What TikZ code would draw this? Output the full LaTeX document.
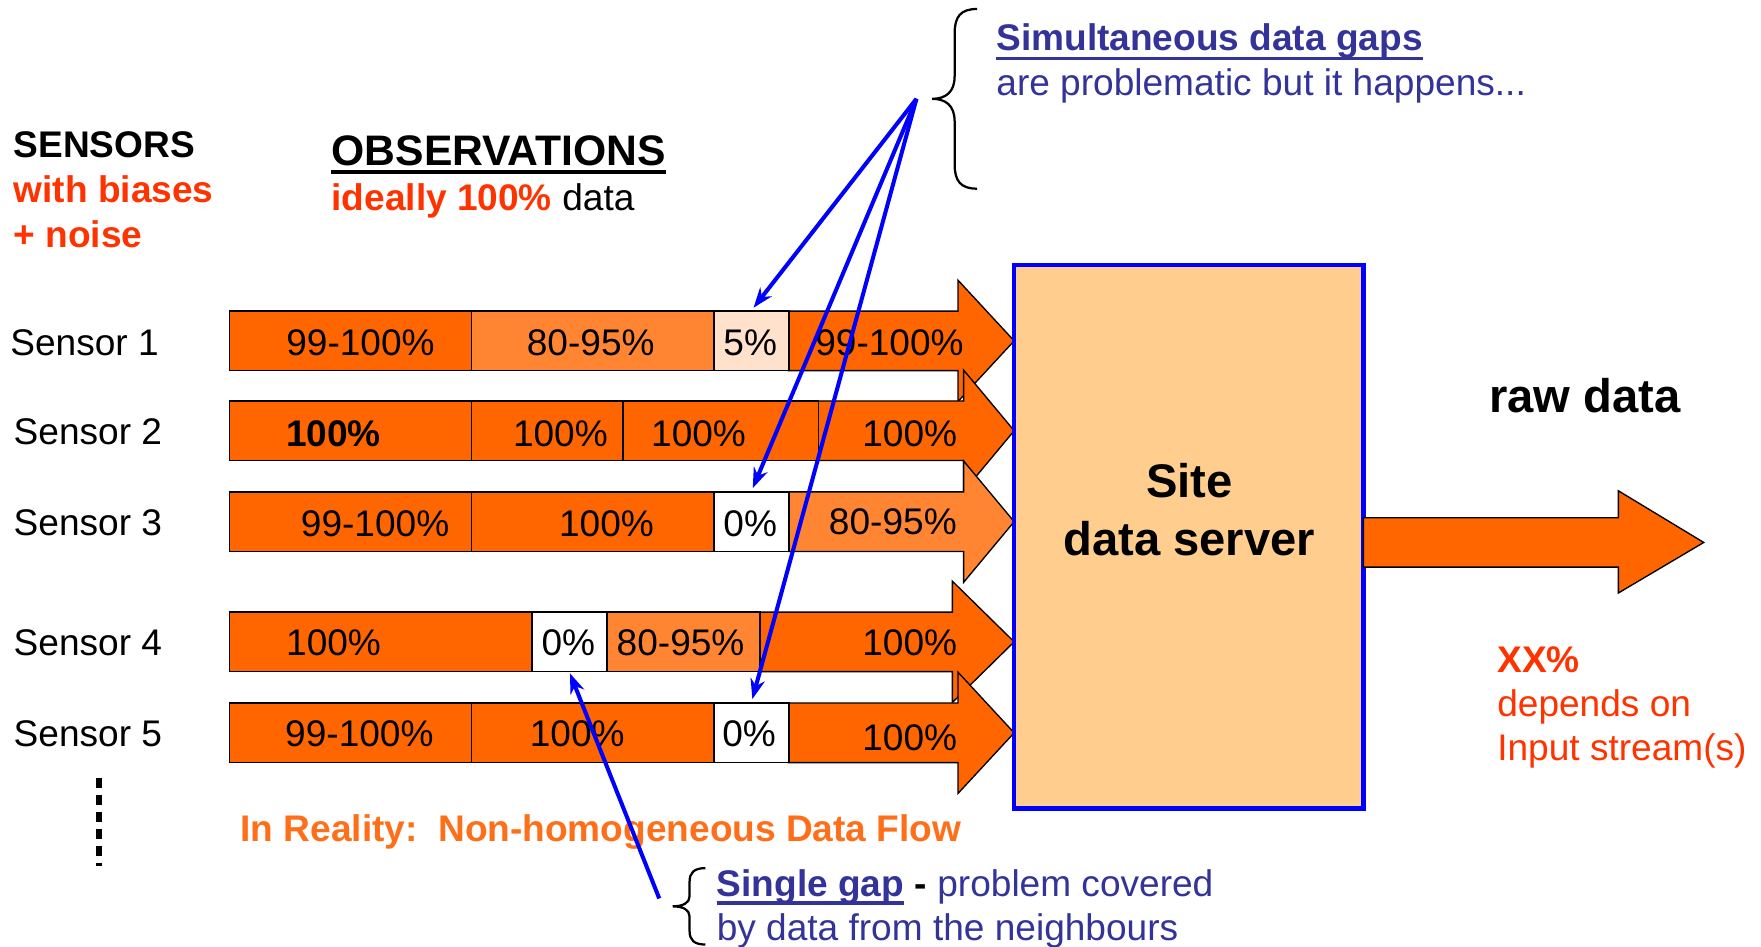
\documentclass[tikz,border=0pt]{standalone}
\usepackage{fontspec}
\setmainfont{Liberation Sans}
\usetikzlibrary{arrows.meta}
\definecolor{dorange}{HTML}{FF6600}
\definecolor{lorange}{HTML}{FF8533}
\definecolor{pale}{HTML}{FFE1CC}
\definecolor{srvfill}{HTML}{FFCE8E}
\definecolor{annblue}{HTML}{333399}
\definecolor{redtxt}{HTML}{FF3300}
\definecolor{flowor}{HTML}{FF6F1A}
\newcommand{\txtA}{\fontsize{33pt}{40pt}\selectfont}
\newcommand{\txtB}{\fontsize{38pt}{44pt}\selectfont}
\newcommand{\txtC}{\fontsize{42pt}{50pt}\selectfont}
\newcommand{\flowarrow}[4]{% fill, x left, shaft end, y centre
  \filldraw[barhead, fill=#1] (#2,#4-26.5) -- (#3,#4-26.5) -- (#3,#4-54) -- (903,#4)
    -- (#3,#4+54) -- (#3,#4+26.5) -- (#2,#4+26.5) -- cycle;}
\tikzset{
  cell/.style={draw=black, line width=1.2pt, rectangle, inner sep=0pt, minimum height=53pt, anchor=west},
  barhead/.style={draw=black, line width=1.2pt, line join=miter},
  lbl/.style={inner sep=0pt, text height=23.6pt, text depth=0pt, font=\txtA},
  txt/.style={inner sep=0pt, anchor=base west, font=\txtA},
  gapline/.style={draw=blue, line width=3.6pt, -{Stealth[length=18pt,width=13pt]}, shorten >=3pt},
  ubrace/.style={draw=black, line width=2pt},
}
\begin{document}
\begin{tikzpicture}[x=1pt,y=-1pt]
\useasboundingbox (0,0) rectangle (1568,843);
% headings
\node[txt, font=\txtA\bfseries] (sens) at (12,140) {SENSORS};
\node[txt, font=\txtA\bfseries, text=redtxt] (bias) at (12,180) {with biases};
\node[txt, font=\txtA\bfseries, text=redtxt] (noise) at (12,220) {+ noise};
\node[txt, font=\txtB\bfseries] (obs) at (295,147) {OBSERVATIONS};
\draw[line width=3pt] ([yshift=-6pt]obs.base west) -- ([yshift=-6pt]obs.base east);
\node[txt] (ideal) at (295,187) {\textcolor{redtxt}{\bfseries ideally 100\%} data};
% sensor labels
\node[lbl, anchor=west] (lab1) at (9,305) {Sensor 1};
\node[lbl, anchor=west] (lab2) at (12,384) {Sensor 2};
\node[lbl, anchor=west] (lab3) at (12,465) {Sensor 3};
\node[lbl, anchor=west] (lab4) at (12,572) {Sensor 4};
\node[lbl, anchor=west] (lab5) at (12,653) {Sensor 5};
% Sensor 1
\flowarrow{dorange}{702}{853}{303.5}
\node[cell, fill=dorange, minimum width=215pt] (s1a) at (204,303.5) {};
\node[cell, fill=lorange, minimum width=216pt] (s1b) at (419,303.5) {};
\node[cell, fill=pale, minimum width=67pt] (s1c) at (635,303.5) {};
\node[lbl] (t1a) at (321,305) {99-100\%};
\node[lbl] (t1b) at (526,305) {80-95\%};
\node[lbl] (t1c) at (668,305) {5\%};
\node[lbl] (t1d) at (792,305) {99-100\%};
% Sensor 2
\flowarrow{dorange}{728}{858}{383.5}
\node[cell, fill=dorange, minimum width=215pt] (s2a) at (204,383.5) {};
\node[cell, fill=dorange, minimum width=135pt] (s2b) at (419,383.5) {};
\node[cell, fill=dorange, minimum width=174pt] (s2c) at (554,383.5) {};
\node[lbl, font=\txtA\bfseries] (t2a) at (297,386) {100\%};
\node[lbl] (t2b) at (499,386) {100\%};
\node[lbl] (t2c) at (622,386) {100\%};
\node[lbl] (t2d) at (810,386) {100\%};
% Sensor 3
\flowarrow{lorange}{702}{858}{464.5}
\node[cell, fill=dorange, minimum width=215pt] (s3a) at (204,464.5) {};
\node[cell, fill=dorange, minimum width=216pt] (s3b) at (419,464.5) {};
\node[cell, fill=white, minimum width=67pt] (s3c) at (635,464.5) {};
\node[lbl] (t3a) at (334,466) {99-100\%};
\node[lbl] (t3b) at (540,466) {100\%};
\node[lbl] (t3c) at (668,466) {0\%};
\node[lbl] (t3d) at (795,464) {80-95\%};
% Sensor 4
\flowarrow{dorange}{676}{848}{571.5}
\node[cell, fill=dorange, minimum width=269pt] (s4a) at (204,571.5) {};
\node[cell, fill=white, minimum width=67pt] (s4b) at (473,571.5) {};
\node[cell, fill=lorange, minimum width=136pt] (s4c) at (540,571.5) {};
\node[lbl] (t4a) at (297,572) {100\%};
\node[lbl] (t4b) at (506,572) {0\%};
\node[lbl] (t4c) at (606,572) {80-95\%};
\node[lbl] (t4d) at (810,572) {100\%};
% Sensor 5
\flowarrow{dorange}{702}{853}{652.5}
\node[cell, fill=dorange, minimum width=215pt] (s5a) at (204,652.5) {};
\node[cell, fill=dorange, minimum width=216pt] (s5b) at (419,652.5) {};
\node[cell, fill=white, minimum width=67pt] (s5c) at (635,652.5) {};
\node[lbl] (t5a) at (320,653) {99-100\%};
\node[lbl] (t5b) at (514,653) {100\%};
\node[lbl] (t5c) at (667,653) {0\%};
\node[lbl] (t5d) at (810,656) {100\%};
% more sensors
\draw[line width=5pt, dash pattern=on 9pt off 6pt] (88,693) -- (88,771);
% server
\node[draw=blue, line width=4pt, fill=srvfill, minimum width=311pt, minimum height=484pt, inner sep=0pt] (server) at (1058.5,478) {};
\node[inner sep=0pt, anchor=base, font=\txtC\bfseries] (srv1) at (1059,443) {Site};
\node[inner sep=0pt, anchor=base, font=\txtC\bfseries] (srv2) at (1059,495) {data server};
\filldraw[barhead, fill=dorange] (1214,461) -- (1441,461) -- (1441,437) -- (1517,483) -- (1441,528) -- (1441,505) -- (1214,505) -- cycle;
\node[inner sep=0pt, anchor=base, font=\txtC\bfseries] (raw) at (1411,367) {raw data};
\node[txt, font=\txtA\bfseries, text=redtxt] (xx) at (1333,599) {XX\%};
\node[txt, text=redtxt] (dep) at (1333,638) {depends on};
\node[txt, text=redtxt] (inp) at (1333,677) {Input stream(s)};
% flow caption
\node[txt, font=\txtA\bfseries, text=flowor] (flow) at (214,749) {In Reality:\ \ Non-homogeneous Data Flow};
% simultaneous gaps annotation
\draw[ubrace] (870,8) .. controls (855,8) and (850,15) .. (850,30) -- (850,68)
  .. controls (850,82) and (842,88) .. (830,88) .. controls (842,88) and (850,94) .. (850,108)
  -- (850,146) .. controls (850,161) and (855,168) .. (870,168);
\node[txt, font=\txtA\bfseries, text=annblue] (sim1) at (887,45) {Simultaneous data gaps};
\draw[annblue, line width=3pt] ([yshift=-7pt]sim1.base west) -- ([yshift=-7pt]sim1.base east);
\node[txt, text=annblue] (sim2) at (887,85) {are problematic but it happens...};
\coordinate (gtip) at (816,88);
\draw[gapline] (gtip) -- (s1c.north);
\draw[gapline] (gtip) -- (s3c.north);
\draw[gapline] (gtip) -- (s5c.north);
% single gap annotation
\draw[ubrace] (628,773) .. controls (618,773) and (614,777) .. (614,785) -- (614,798)
  .. controls (614,804) and (608,807) .. (599,807) .. controls (608,807) and (614,810) .. (614,816)
  -- (614,829) .. controls (614,837) and (618,841) .. (628,841);
\node[txt, font=\txtA\bfseries, text=annblue] (sg1a) at (638,798) {Single gap};
\draw[annblue, line width=3pt] ([yshift=-6pt]sg1a.base west) -- ([yshift=-6pt]sg1a.base east);
\node[txt, text=annblue] (sg1b) at ([xshift=9pt]sg1a.base east) {\textcolor{black}{\bfseries -}~problem covered};
\node[txt, text=annblue] (sg2) at (638,837) {by data from the neighbours};
\coordinate (sgtail) at (587,800);
\draw[gapline, shorten >=1pt] (sgtail) -- (s4b.south);
\end{tikzpicture}
\end{document}
